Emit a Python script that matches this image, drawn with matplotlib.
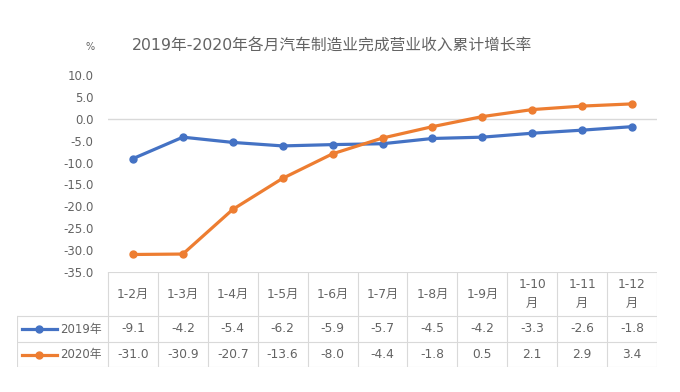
import matplotlib
matplotlib.use("Agg")
import matplotlib.pyplot as plt
from matplotlib.lines import Line2D

# DejaVu first for the wide digits, CJK glyphs fall back to Noto
plt.rcParams['font.family'] = ['DejaVu Sans', 'Noto Sans CJK SC']

months = ["1-2月", "1-3月", "1-4月", "1-5月", "1-6月", "1-7月", "1-8月", "1-9月",
          "1-10\n月", "1-11\n月", "1-12\n月"]
series_names = ["2019年", "2020年"]
values_2019 = [-9.1, -4.2, -5.4, -6.2, -5.9, -5.7, -4.5, -4.2, -3.3, -2.6, -1.8]
values_2020 = [-31.0, -30.9, -20.7, -13.6, -8.0, -4.4, -1.8, 0.5, 2.1, 2.9, 3.4]
yticks = [10, 5, 0, -5, -10, -15, -20, -25, -30, -35]
colors = ["#4472C4", "#ED7D31"]
title = "2019年-2020年各月汽车制造业完成营业收入累计增长率"

W, H = 680, 392
fig = plt.figure(figsize=(W / 100, H / 100), dpi=100)
fig.patch.set_facecolor("white")

def px(x0, y0, x1, y1):
    return [x0 / W, 1 - y1 / H, (x1 - x0) / W, (y1 - y0) / H]

text_col = "#636363"
grid_col = "#D9D9D9"
n = len(months)

# main chart
ax = fig.add_axes(px(108, 75, 657, 272))
ax.set_xlim(-0.5, n - 0.5)
ax.set_ylim(-35, 10)
for s in ax.spines.values():
    s.set_visible(False)
ax.axhline(0, color=grid_col, lw=1)
ax.set_xticks([])
ax.set_yticks(yticks)
ax.set_yticklabels([f"{v:.1f}" for v in yticks], fontsize=8.5, color=text_col)
ax.tick_params(axis="y", length=0, pad=10.5)
x = list(range(n))
for vals, c in zip([values_2019, values_2020], colors):
    ax.plot(x, vals, color=c, lw=2.3, marker="o", ms=5, zorder=3)

fig.text(332 / W, 1 - 46 / H, title, ha="center", va="center", fontsize=11.3, color=text_col)
fig.text(90 / W, 1 - 47 / H, "%", ha="center", va="center", fontsize=7, color=text_col)

# data table
tab = fig.add_axes(px(17, 272, 657, 367))
tab.set_xlim(0, 640)
tab.set_ylim(95, 0)
tab.axis("off")
x0 = 91
col_w = (640 - x0) / n
rows_y = [0, 44, 70, 95]
lkw = dict(color=grid_col, lw=0.8)
tab.add_line(Line2D([x0, 640], [0, 0], **lkw))
for i in range(n + 1):
    xx = x0 + i * col_w
    tab.add_line(Line2D([xx, xx], [0, 95], **lkw))
tab.add_line(Line2D([0, 0], [44, 95], **lkw))
for yy in rows_y[1:]:
    tab.add_line(Line2D([0, 640], [yy, yy], **lkw))

for i, m in enumerate(months):
    tab.text(x0 + (i + 0.5) * col_w, 22, m, ha="center", va="center",
             fontsize=8.8, color=text_col, linespacing=1.5)

for r, (name, vals, c) in enumerate(zip(series_names, [values_2019, values_2020], colors)):
    yc = (rows_y[r + 1] + rows_y[r + 2]) / 2
    tab.plot([5, 40], [yc, yc], color=c, lw=2.3)
    tab.plot([22], [yc], color=c, marker="o", ms=5)
    tab.text(43, yc, name, ha="left", va="center", fontsize=8.5, color=text_col)
    for i, v in enumerate(vals):
        tab.text(x0 + (i + 0.5) * col_w, yc, f"{v:.1f}", ha="center", va="center",
                 fontsize=8.8, color=text_col)

fig.savefig("out.png", dpi=100, facecolor="white")
